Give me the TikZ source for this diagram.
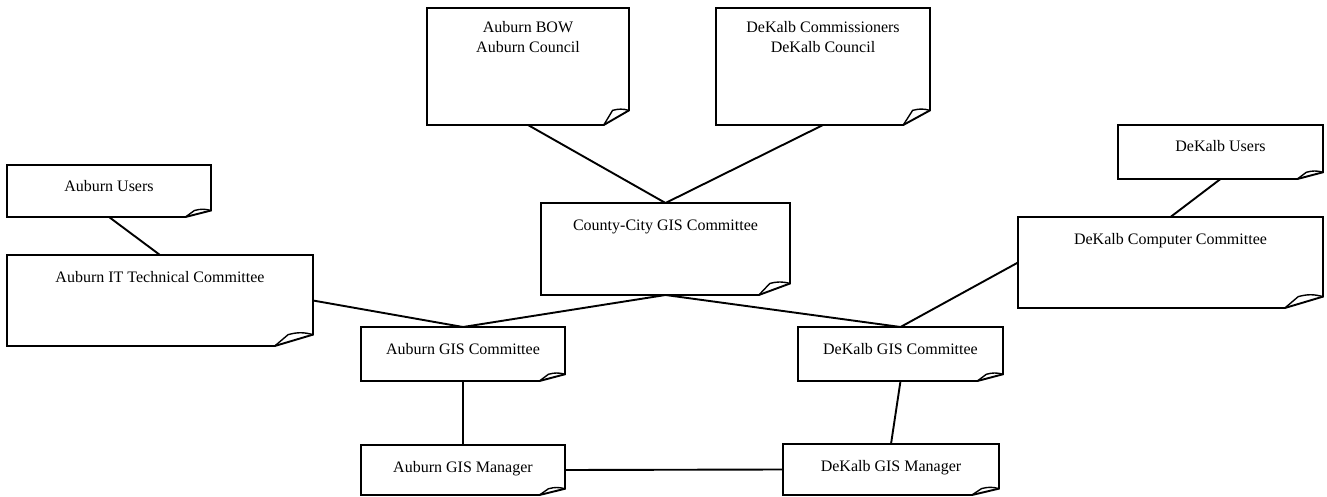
\documentclass[tikz,border=0pt]{standalone}
\usepackage{fontspec}
\setmainfont{Liberation Serif}
\usetikzlibrary{calc, positioning}

\tikzset{
  paper/.style 2 args={draw=none, rectangle, anchor=north west, inner sep=0pt, outer sep=0pt,
                       minimum width=#1pt, text height=27pt, text depth=#2pt, align=center},
  fold/.style={line width=1.9pt, line join=miter},
  link/.style={line width=1.9pt},
}

\begin{document}
\begin{tikzpicture}[x=1pt, y=-1pt, font=\fontsize{16}{20}\selectfont]
\useasboundingbox (0,0) rectangle (1327,497);

% top row
\node [paper={202}{72}, text height=45pt] at (427,8)   (bow)    {Auburn BOW\\Auburn Council};
\node [paper={214}{72}, text height=45pt] at (716,8)   (dkb)    {DeKalb Commissioners\\DeKalb Council};

% middle row
\node [paper={249}{65}] at (541,203)  (cc)     {County-City GIS Committee};
\node [paper={204}{25}] at (7,165)    (ausers) {Auburn Users};
\node [paper={306}{64}] at (7,255)    (ait)    {Auburn IT Technical Committee};
\node [paper={205}{27}] at (1118,125) (dusers) {DeKalb Users};
\node [paper={305}{64}] at (1018,217) (dcc)    {DeKalb Computer Committee};

% bottom rows
\node [paper={204}{27}] at (361,327)  (agc)    {Auburn GIS Committee};
\node [paper={205}{27}] at (798,327)  (dgc)    {DeKalb GIS Committee};
\node [paper={204}{23}] at (361,445)  (agm)    {Auburn GIS Manager};
\node [paper={216}{24}] at (783,444)  (dgm)    {DeKalb GIS Manager};

% sheets with turned corner
\foreach \n in {bow, dkb, cc, ausers, ait, dusers, dcc, agc, dgc, agm, dgm} {
  \coordinate (a) at ($(\n.south east)!0.125!(\n.south west)$);
  \coordinate (b) at ($(\n.south east)!0.125!(\n.north east)$);
  \coordinate (c) at ($(a |- b)!0.35!(b)$);
  \draw [fold] (a) -- (\n.south west) -- (\n.north west) -- (\n.north east) -- (b) -- cycle;
  \draw [fold, line width=1.4pt] (a) -- (c) to[bend left=15] (b);
}

% links
\draw [link] (bow.south)    -- (cc.north);
\draw [link] (dkb.south)    -- (cc.north);
\draw [link] (ausers.south) -- (ait.north);
\draw [link] (dusers.south) -- (dcc.north);
\draw [link] (ait.east)     -- (agc.north);
\draw [link] (cc.south)     -- (agc.north);
\draw [link] (cc.south)     -- (dgc.north);
\draw [link] (dcc.west)     -- (dgc.north);
\draw [link] (agc.south)    -- (agm.north);
\draw [link] (dgc.south)    -- (dgm.north);
\draw [link] (agm.east)     -- (dgm.west);

\end{tikzpicture}
\end{document}
